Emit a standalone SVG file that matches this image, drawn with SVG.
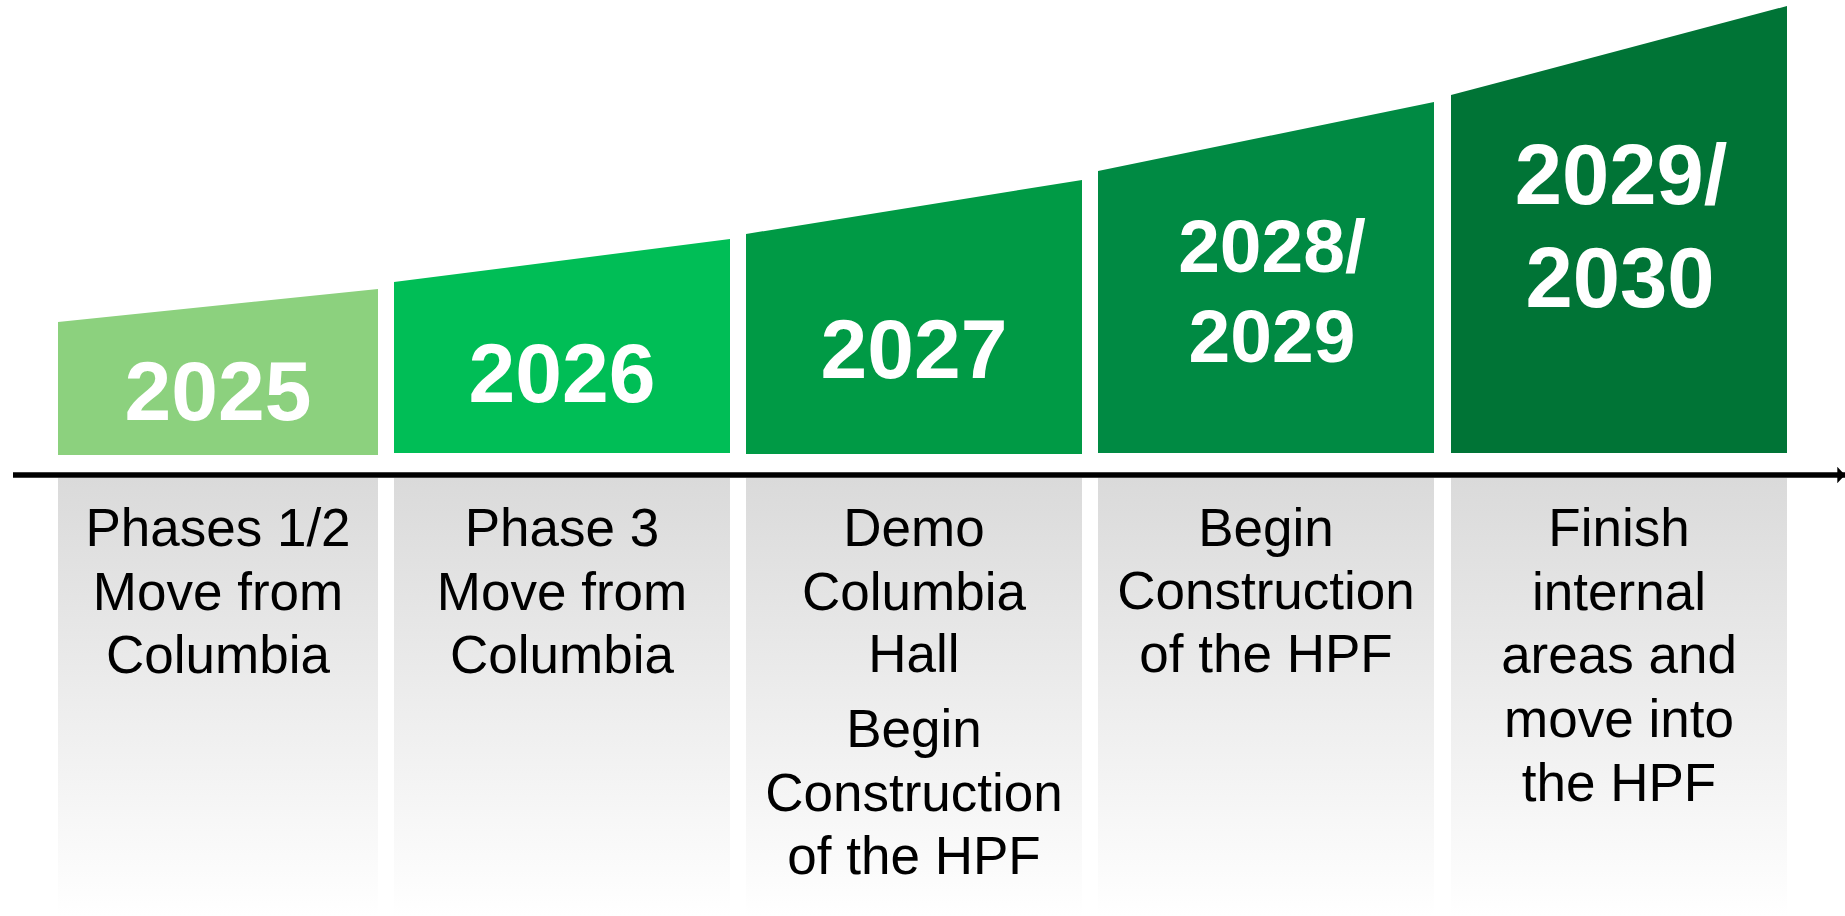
<svg xmlns="http://www.w3.org/2000/svg" width="1845" height="916" viewBox="0 0 1845 916">
<defs>
<linearGradient id="fade" x1="0" y1="0" x2="0" y2="1">
<stop offset="0" stop-color="#dadada"/>
<stop offset="1" stop-color="#ffffff"/>
</linearGradient>
<marker id="arrow" viewBox="0 0 10 10" refX="10" refY="5" markerWidth="1.4" markerHeight="3" markerUnits="strokeWidth" orient="auto" preserveAspectRatio="none">
<path d="M0,0 L10,5 L0,10 Z" fill="#000"/>
</marker>
<style>
.yr{font-family:"Liberation Sans",Arial,sans-serif;font-weight:bold;fill:#fff;text-anchor:middle}
.desc{font-family:"Liberation Sans",Arial,sans-serif;font-size:53px;fill:#000;text-anchor:middle}
.panel{fill:url(#fade)}
</style>
</defs>
<rect width="1845" height="916" fill="#fff"/>

<g id="col-2025">
<rect class="panel" x="58" y="478" width="320" height="438"/>
<polygon points="58,322 378,289 378,455 58,455" fill="#8cd17e"/>
<text class="yr" x="218" y="420" font-size="84">2025</text>
<text class="desc"><tspan x="218" y="546">Phases 1/2</tspan><tspan x="218" y="610">Move from</tspan><tspan x="218" y="673">Columbia</tspan></text>
</g>

<g id="col-2026">
<rect class="panel" x="394" y="478" width="336" height="438"/>
<polygon points="394,282 730,239 730,453 394,453" fill="#00be56"/>
<text class="yr" x="562" y="402" font-size="84">2026</text>
<text class="desc"><tspan x="562" y="546">Phase 3</tspan><tspan x="562" y="610">Move from</tspan><tspan x="562" y="673">Columbia</tspan></text>
</g>

<g id="col-2027">
<rect class="panel" x="746" y="478" width="336" height="438"/>
<polygon points="746,234 1082,180 1082,454 746,454" fill="#009a45"/>
<text class="yr" x="914" y="378" font-size="84">2027</text>
<text class="desc"><tspan x="914" y="546">Demo</tspan><tspan x="914" y="610">Columbia</tspan><tspan x="914" y="672">Hall</tspan><tspan x="914" y="747">Begin</tspan><tspan x="914" y="811">Construction</tspan><tspan x="914" y="874">of the HPF</tspan></text>
</g>

<g id="col-2028">
<rect class="panel" x="1098" y="478" width="336" height="438"/>
<polygon points="1098,171 1434,102 1434,453 1098,453" fill="#008a43"/>
<text class="yr" font-size="75"><tspan x="1272" y="272">2028/</tspan><tspan x="1272" y="362">2029</tspan></text>
<text class="desc"><tspan x="1266" y="546">Begin</tspan><tspan x="1266" y="609">Construction</tspan><tspan x="1266" y="672">of the HPF</tspan></text>
</g>

<g id="col-2029">
<rect class="panel" x="1451" y="478" width="336" height="438"/>
<polygon points="1451,95 1787,6 1787,453 1451,453" fill="#007436"/>
<text class="yr" font-size="85"><tspan x="1621" y="204">2029/</tspan><tspan x="1620" y="307">2030</tspan></text>
<text class="desc"><tspan x="1619" y="546">Finish</tspan><tspan x="1619" y="610">internal</tspan><tspan x="1619" y="673">areas and</tspan><tspan x="1619" y="737">move into</tspan><tspan x="1619" y="801">the HPF</tspan></text>
</g>

<g id="connectors">
<line x1="13" y1="475" x2="1845" y2="475" stroke="#000" stroke-width="5.5" marker-end="url(#arrow)"/>
</g>
</svg>
